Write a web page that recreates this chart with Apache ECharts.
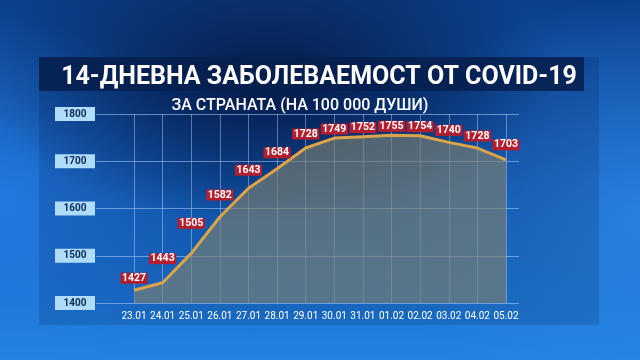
<!DOCTYPE html>
<html><head><meta charset="utf-8">
<script src="https://cdn.jsdelivr.net/npm/echarts@6/dist/echarts.min.js"></script>
<style>
html,body{margin:0;padding:0;}
#bg{position:absolute;left:0;top:0;width:640px;height:360px;
background:
 radial-gradient(ellipse 45% 40% at 42% 22%, rgba(4,22,62,0.9) 0%, rgba(4,22,62,0) 100%),
 radial-gradient(ellipse 35% 50% at 0% 55%, rgba(40,130,235,0.75) 0%, rgba(40,130,235,0) 100%),
 radial-gradient(ellipse 40% 60% at 100% 60%, rgba(50,140,235,0.7) 0%, rgba(50,140,235,0) 100%),
 linear-gradient(to bottom, #0c3f8a 0%, #1158b2 45%, #1a72d2 80%, #2284e0 100%);}
#c{position:absolute;left:0;top:0;width:640px;height:360px;}
</style></head>
<body><div id="bg"></div><div id="c"></div>
<script>
const categories = ['23.01','24.01','25.01','26.01','27.01','28.01','29.01','30.01','31.01','01.02','02.02','03.02','04.02','05.02'];
const values = [1427,1443,1505,1582,1643,1684,1728,1749,1752,1755,1754,1740,1728,1703];
const yTicks = [1400,1500,1600,1700,1800];
const titleText = '14-ДНЕВНА ЗАБОЛЕВАЕМОСТ ОТ COVID-19';
const subtitleText = 'ЗА СТРАНАТА (НА 100 000 ДУШИ)';
// label distance above each point (style only)
const labelGap = [6,18,24,16,12,10,8,3,3,3,3,6,6,9];

const chart = echarts.init(document.getElementById('c'), null, {renderer:'canvas'});
const yMin = yTicks[0], yMax = yTicks[yTicks.length-1];
chart.setOption({
  backgroundColor: 'transparent',
  animation: false,
  graphic: [
    {type:'rect', z:-10, shape:{x:39,y:57,width:560,height:268}, style:{fill:'rgba(0,20,70,0.16)'}},
    {type:'rect', z:-9, shape:{x:39,y:57,width:545,height:34}, style:{fill:'rgba(6,32,78,0.88)'}}
  ],
  title: [
    {text:titleText, left:314, top:60, textAlign:'center',
     textStyle:{color:'#ffffff', fontFamily:'Roboto', fontWeight:'bold', fontSize:25}},
    {text:subtitleText, left:295, top:93, textAlign:'center',
     textStyle:{color:'#ffffff', fontFamily:'Roboto', fontWeight:500, fontSize:16}}
  ],
  grid: [
    {left:134, right:134, top:114, bottom:57},
    {left:96, right:121, top:114, bottom:57}
  ],
  xAxis: [
    {type:'category', gridIndex:0, data:categories, boundaryGap:false,
     axisLine:{show:false}, axisTick:{show:false},
     axisLabel:{color:'#ffffff', fontFamily:'Roboto', fontSize:10, margin:8, interval:0},
     splitLine:{show:true, lineStyle:{color:'rgba(220,235,255,0.4)', width:1}}},
    {type:'value', gridIndex:1, show:false}
  ],
  yAxis: [
    {type:'value', gridIndex:0, min:yMin, max:yMax, interval:100, show:false},
    {type:'value', gridIndex:1, min:yMin, max:yMax, interval:100,
     axisLine:{show:false}, axisTick:{show:false},
     splitLine:{show:true, lineStyle:{color:'rgba(170,210,255,0.55)', width:1}},
     axisLabel:{formatter: v => String(v), align:'center', margin:21, width:40, height:14, lineHeight:14,
       backgroundColor:'#aedcfa', color:'#0b2a5c', fontFamily:'Roboto', fontWeight:'bold', fontSize:10}}
  ],
  series: [{
    type:'line', xAxisIndex:0, yAxisIndex:0,
    data: values.map((v,i)=>({value:v, label:{distance:labelGap[i]}})),
    symbol:'circle', symbolSize:1, showSymbol:true,
    itemStyle:{color:'rgba(0,0,0,0)'},
    smooth:false,
    lineStyle:{color:'#dca449', width:3},
    areaStyle:{color:'rgba(124,126,112,0.92)'},
    label:{show:true, position:'top', backgroundColor:'#b31f2f', color:'#ffffff',
      fontFamily:'Roboto', fontWeight:'bold', fontSize:10.5, lineHeight:11, padding:[0,1.5]},
    labelLayout:{hideOverlap:false},
    z:3
  }]
});
</script></body></html>
